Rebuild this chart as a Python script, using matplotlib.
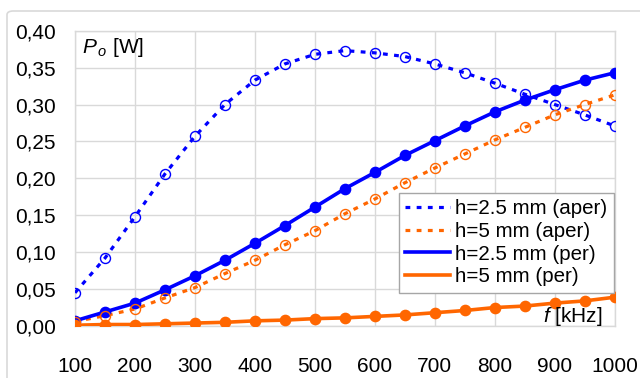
import matplotlib
matplotlib.use('Agg')
import matplotlib.pyplot as plt
from matplotlib.patches import FancyBboxPatch

plt.rcParams['font.family'] = ['Liberation Sans', 'DejaVu Sans']
plt.rcParams['mathtext.fontset'] = 'custom'
plt.rcParams['mathtext.rm'] = 'Liberation Sans'
plt.rcParams['mathtext.it'] = 'Liberation Sans:italic'

# frequency [kHz]
freq = [100, 150, 200, 250, 300, 350, 400, 450, 500, 550,
        600, 650, 700, 750, 800, 850, 900, 950, 1000]

# output power [W]
p_aper_25 = [0.045, 0.092, 0.148, 0.206, 0.257, 0.300, 0.333, 0.355, 0.368, 0.373,
             0.370, 0.365, 0.355, 0.343, 0.329, 0.314, 0.300, 0.286, 0.271]
p_aper_5 = [0.006, 0.014, 0.023, 0.038, 0.052, 0.071, 0.089, 0.110, 0.129, 0.152,
            0.172, 0.194, 0.214, 0.233, 0.252, 0.269, 0.286, 0.300, 0.313]
p_per_25 = [0.007, 0.019, 0.031, 0.049, 0.068, 0.089, 0.112, 0.136, 0.161, 0.186,
            0.208, 0.231, 0.251, 0.271, 0.290, 0.306, 0.320, 0.333, 0.343]
p_per_5 = [0.001, 0.002, 0.002, 0.003, 0.004, 0.005, 0.007, 0.008, 0.010, 0.011,
           0.013, 0.015, 0.018, 0.021, 0.025, 0.027, 0.031, 0.034, 0.039]

labels = ['h=2.5 mm (aper)', 'h=5 mm (aper)', 'h=2.5 mm (per)', 'h=5 mm (per)']
x_ticks = [100, 200, 300, 400, 500, 600, 700, 800, 900, 1000]
y_ticks = [0.0, 0.05, 0.10, 0.15, 0.20, 0.25, 0.30, 0.35, 0.40]
y_ticklabels = ['0,00', '0,05', '0,10', '0,15', '0,20', '0,25', '0,30', '0,35', '0,40']

BLUE = '#0000FF'
ORANGE = '#FF6600'
GRID = '#D9D9D9'
dotted = (0, (1.5, 2.0))

fig = plt.figure(figsize=(6.4, 3.78), dpi=100)
# outer chart frame
fig.patches.append(FancyBboxPatch((7 / 640, -0.2), 1.2, (378 - 11) / 378 + 0.2,
                                  boxstyle='round,pad=0,rounding_size=0.01',
                                  transform=fig.transFigure, fill=False,
                                  edgecolor=GRID, linewidth=1.2))

ax = fig.add_axes([75 / 640, 1 - 326 / 378, 539.7 / 640, 295.3 / 378])

# lines (legend entries)
ax.plot(freq, p_aper_25, color=BLUE, lw=2.3, ls=dotted, label=labels[0], zorder=3)
ax.plot(freq, p_aper_5, color=ORANGE, lw=2.3, ls=dotted, label=labels[1], zorder=3)
ax.plot(freq, p_per_25, color=BLUE, lw=2.6, label=labels[2], zorder=3)
ax.plot(freq, p_per_5, color=ORANGE, lw=2.6, label=labels[3], zorder=5)

# markers
ax.plot(freq, p_per_25, ls='none', marker='o', ms=7.4, color=BLUE, zorder=3.5)
ax.plot(freq, p_aper_25, ls='none', marker='o', ms=7.2, mfc='none', mec=BLUE, mew=1.0, zorder=4)
ax.plot(freq, p_aper_5, ls='none', marker='o', ms=7.2, mfc='none', mec=ORANGE, mew=1.0, zorder=4)
ax.plot(freq, p_per_5, ls='none', marker='o', ms=7.4, color=ORANGE, zorder=5.5)

ax.set_xlim(100, 1000)
ax.set_ylim(0, 0.40)
ax.set_xticks(x_ticks)
ax.set_yticks(y_ticks)
ax.set_yticklabels(y_ticklabels)
ax.tick_params(axis='both', length=0, labelsize=15)
ax.tick_params(axis='x', pad=22)
ax.tick_params(axis='y', pad=14)
ax.grid(True, color=GRID, lw=1)
ax.set_axisbelow(True)
for s in ax.spines.values():
    s.set_color(GRID)
    s.set_linewidth(1)

ax.text(0.013, 0.9245, r'$P_{\,o}$ [W]', transform=ax.transAxes, fontsize=15,
        ha='left', va='baseline')
ax.text(0.867, 0.0135, r'$f$ [kHz]', transform=ax.transAxes, fontsize=15,
        ha='left', va='baseline', zorder=6)

leg = ax.legend(loc='upper left', bbox_to_anchor=(0.600, 0.450), borderaxespad=0,
                fontsize=14.8, frameon=True, fancybox=False, framealpha=1,
                edgecolor='#A6A6A6', handlelength=2.2, handletextpad=0.25,
                labelspacing=0.18, borderpad=0.3)
leg.get_frame().set_linewidth(1)
leg.set_zorder(7)

fig.savefig('out.png', dpi=100)
